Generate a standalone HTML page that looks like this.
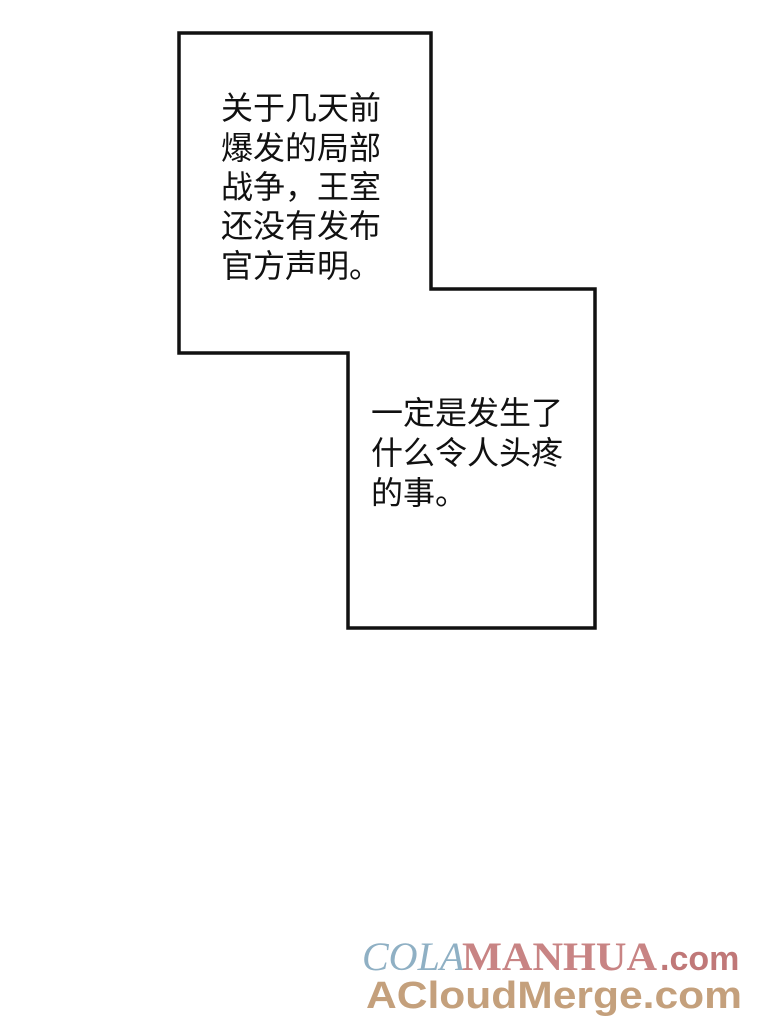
<!DOCTYPE html>
<html><head><meta charset="utf-8"><style>
html,body{margin:0;padding:0;background:#fff;width:760px;height:1021px;overflow:hidden}
</style></head><body>
<svg width="760" height="1021" xmlns="http://www.w3.org/2000/svg" style="display:block">
<rect width="760" height="1021" fill="#fff"/>
<polygon points="179,33 431,33 431,289 595,289 595,628 348,628 348,353 179,353" fill="#fff" stroke="#111" stroke-width="3.5"/>
<g font-family="'Noto Sans CJK SC','WenQuanYi Zen Hei',sans-serif" font-size="32" fill="#111">
<text x="221" y="119">关于几天前</text>
<text x="221" y="159">爆发的局部</text>
<text x="221" y="198">战争，王室</text>
<text x="221" y="237">还没有发布</text>
<text x="221" y="277">官方声明。</text>
<text x="371" y="424">一定是发生了</text>
<text x="371" y="464">什么令人头疼</text>
<text x="371" y="504">的事。</text>
</g>
<text x="362" y="970" font-family="'Liberation Serif',serif" font-style="italic" font-size="40" fill="#8fb0c4">COLA</text>
<text x="462" y="970" font-family="'Liberation Serif',serif" font-weight="bold" font-size="40" fill="#c88484" textLength="195" lengthAdjust="spacingAndGlyphs">MANHUA</text>
<text x="660" y="970" font-family="'Liberation Sans',sans-serif" font-weight="bold" font-size="34" fill="#c07878">.com</text>
<text x="366" y="1008" font-family="'Liberation Sans',sans-serif" font-weight="bold" font-size="38" fill="#c4a07c" textLength="376" lengthAdjust="spacingAndGlyphs">ACloudMerge.com</text>
</svg>
</body></html>
